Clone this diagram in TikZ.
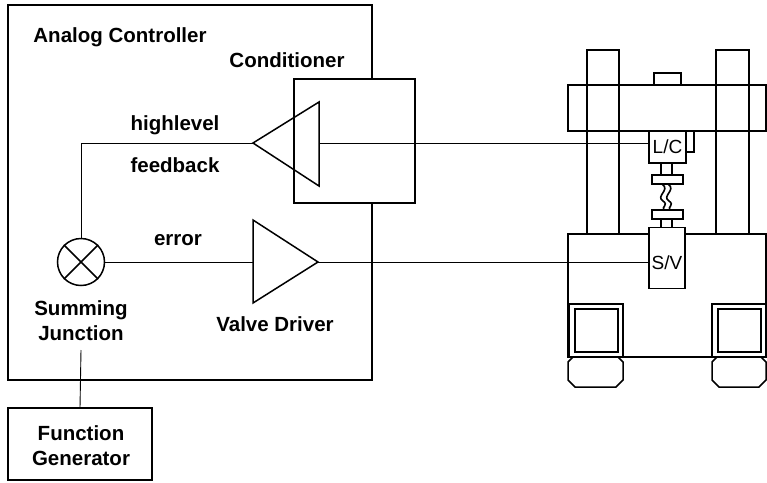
\documentclass[tikz,border=0pt]{standalone}
\usepackage{fontspec}
\setmainfont{Liberation Sans}
\usetikzlibrary{calc}
\begin{document}
\begin{tikzpicture}[x=1pt,y=-1pt,
  frame/.style={draw,line width=1.6pt},
  wire/.style={draw,line width=0.9pt},
  boxnode/.style={frame,inner sep=0pt,outer sep=0pt},
  lbl/.style={font=\bfseries\fontsize{20.5}{25}\selectfont,inner sep=0pt,align=center},
  tag/.style={font=\fontsize{19}{22}\selectfont,inner sep=0pt},
  part/.style={line width=1.5pt},
]
\useasboundingbox (0,0) rectangle (767,482);

% ---------- analog controller ----------
\node[boxnode,minimum width=364pt,minimum height=375pt] (ctrl) at (190,192.5) {};
\node[lbl] (ctrltitle) at (120,37) {Analog Controller};
\node[lbl] (condtitle) at (287,60) {Conditioner};

% conditioner box (covers the controller's edge)
\node[boxnode,fill=white,minimum width=121pt,minimum height=124pt] (cond) at (354.5,141) {};

% feedback amplifier (points left)
\coordinate (fbtip) at (253,143);
\coordinate (fbtop) at (319,102);
\coordinate (fbbot) at (319,186);
\coordinate (fbin) at (319,143);
\draw[part] (fbtop) -- (fbtip) -- (fbbot) -- cycle;
\node[lbl] (hl) at (175,125) {highlevel};
\node[lbl] (fb) at (175,165) {feedback};

% summing junction
\node[draw,circle,line width=1.5pt,minimum size=47pt,inner sep=0pt] (sum) at (81,262) {};
\draw[line width=1.5pt] (sum.north west) -- (sum.south east) (sum.north east) -- (sum.south west);
\node[lbl] (sumlbl) at (81,321) {Summing\\Junction};

% valve driver (points right)
\coordinate (vdin) at (253,262);
\coordinate (vdtop) at (253,220);
\coordinate (vdbot) at (253,303);
\coordinate (vdtip) at (318,262);
\draw[part] (vdtop) -- (vdtip) -- (vdbot) -- cycle;
\node[lbl] (err) at (178,240) {error};
\node[lbl] (vdl) at (275,324) {Valve Driver};

% function generator
\node[boxnode,minimum width=144pt,minimum height=72pt] (fg) at (80,444) {};
\node[lbl] (fgl) at (81,446) {Function\\Generator};

% ---------- test frame ----------
% columns
\draw[part] (587,234) -- (587,50) -- (619,50) -- (619,234);
\draw[part] (716,234) -- (716,50) -- (749,50) -- (749,234);
% crosshead and top block
\draw[part] (568,85) rectangle (766,131);
\draw[part] (654,85) -- (654,73) -- (681,73) -- (681,85);
% load cell
\node[draw,line width=1.5pt,inner sep=0pt,minimum width=37pt,minimum height=32pt,tag] (lc) at (667.5,147) {L/C};
\draw[part] (686,152) -- (694,152) -- (694,131);
% upper grip
\draw[part] (661,163) -- (661,175) (672,163) -- (672,175);
\draw[part] (652,175) rectangle (683,184);
% specimen
\draw[line width=1.6pt] (662,184) .. controls (671,190) and (655,196) .. (663,201)
                         .. controls (669,205) and (661,207) .. (664,210);
\draw[line width=1.6pt] (668,184) .. controls (677,190) and (661,196) .. (669,201)
                         .. controls (675,205) and (667,207) .. (670,210);
% lower grip
\draw[part] (652,210) rectangle (683,219);
\draw[part] (661,219) -- (661,228) (672,219) -- (672,228);
% base
\draw[part] (568,234) rectangle (766,357);
% servo valve
\node[draw,fill=white,line width=1.5pt,inner sep=0pt,minimum width=36pt,minimum height=61pt] (sv) at (667,258) {};
\node[tag] (svl) at (667,263) {S/V};
% feet
\draw[part] (569,304) rectangle (623,357);
\draw[part] (575,309) rectangle (618,352);
\draw[part] (712,304) rectangle (766,357);
\draw[part] (718,309) rectangle (761,352);
% pads
\draw[part] (573,357) -- (618,357) -- (623,362) -- (623,380) -- (616,387)
            -- (575,387) -- (568,380) -- (568,362) -- cycle;
\draw[part] (717,357) -- (761,357) -- (766,362) -- (766,380) -- (759,387)
            -- (719,387) -- (712,380) -- (712,362) -- cycle;

% ---------- connections ----------
\draw[wire] (fbin) -- (fbin -| lc.west);
\draw[wire] (fbtip) -| (sum.north);
\draw[wire] (sum.east) -- (vdin);
\draw[wire] (vdtip) -- (sv.west |- vdtip);
\draw[wire] (81,350) -- (fg.north);
\end{tikzpicture}
\end{document}
